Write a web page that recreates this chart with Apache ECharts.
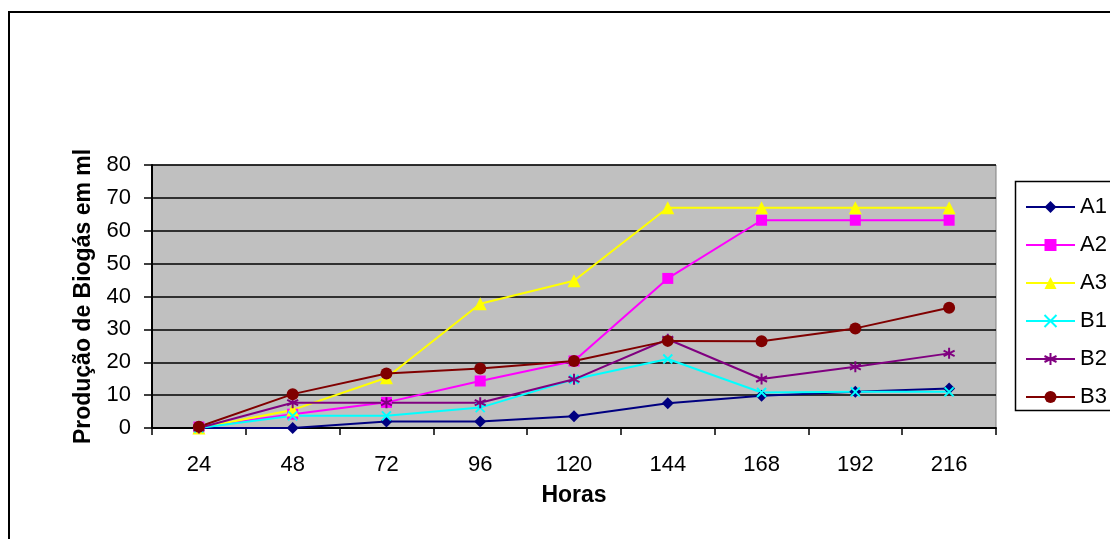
<!DOCTYPE html>
<html>
<head>
<meta charset="utf-8">
<script src="https://cdn.jsdelivr.net/npm/echarts@6/dist/echarts.min.js"></script>
<style>
  html, body { margin: 0; padding: 0; background: #ffffff; }
  #chart { width: 1110px; height: 539px; }
</style>
</head>
<body>
<div id="chart"></div>
<script>
// Hours of incubation (category axis)
const hours = ['24', '48', '72', '96', '120', '144', '168', '192', '216'];

// Biogas production (ml) per treatment
const A1 = [0, 0, 2, 2, 3.6, 7.5, 9.8, 11, 12];
const A2 = [0.3, 4.2, 7.8, 14.3, 20.4, 45.5, 63.2, 63.2, 63.2];
const A3 = [0, 5.5, 15.3, 37.8, 44.8, 67, 67, 67, 67];
const B1 = [0, 3.7, 3.7, 6.2, 14.8, 21, 10.8, 11, 11];
const B2 = [0, 7.7, 7.7, 7.7, 14.8, 27, 14.9, 18.6, 22.7];
const B3 = [0.4, 10.3, 16.6, 18.1, 20.4, 26.5, 26.4, 30.3, 36.6];

const FONT = '"Liberation Sans", Arial, sans-serif';

// Stroked marker shapes for the cross and asterisk series
const crossPath = 'path://M0,0L10,10M10,0L0,10';
const starPath = 'path://M5,0L5,10M0.7,2.5L9.3,7.5M9.3,2.5L0.7,7.5';

function lineSeries(name, data, color, symbol, size, stroked) {
  return {
    name: name,
    type: 'line',
    data: data,
    symbol: symbol,
    symbolSize: size,
    showSymbol: true,
    lineStyle: { color: color, width: 2 },
    itemStyle: stroked
      ? { color: 'rgba(0,0,0,0)', borderColor: color, borderWidth: 2 }
      : { color: color, borderWidth: 0 },
    emphasis: { disabled: true },
    animation: false
  };
}

const chart = echarts.init(document.getElementById('chart'), null, { renderer: 'canvas' });

chart.setOption({
  backgroundColor: '#ffffff',
  animation: false,
  textStyle: { fontFamily: FONT },
  graphic: [
    {
      type: 'rect',
      z: -10,
      shape: { x: 9, y: 12, width: 1200, height: 600 },
      style: { fill: 'none', stroke: '#000', lineWidth: 2 }
    },
    {
      type: 'rect',
      z: -5,
      shape: { x: 1015.5, y: 181.5, width: 200, height: 229 },
      style: { fill: '#fff', stroke: '#000', lineWidth: 1.5 }
    }
  ],
  grid: {
    left: 152,
    top: 165,
    right: 114,
    bottom: 111,
    show: true,
    backgroundColor: '#c0c0c0',
    borderColor: '#808080',
    borderWidth: 1
  },
  legend: {
    orient: 'vertical',
    left: 1020,
    top: 191,
    itemWidth: 49,
    itemHeight: 15,
    itemGap: 16,
    textStyle: { fontFamily: FONT, fontSize: 22, color: '#000' },
    data: ['A1', 'A2', 'A3', 'B1', 'B2', 'B3']
  },
  xAxis: {
    type: 'category',
    data: hours,
    boundaryGap: true,
    name: 'Horas',
    nameLocation: 'middle',
    nameGap: 56,
    nameTextStyle: { fontFamily: FONT, fontSize: 23, fontWeight: 'bold', color: '#000' },
    axisLine: { lineStyle: { color: '#000', width: 2 } },
    axisTick: { show: true, interval: 0, length: 7, lineStyle: { color: '#000', width: 1.5 } },
    axisLabel: { fontFamily: FONT, fontSize: 22, color: '#000', margin: 26, interval: 0 },
    splitLine: { show: false }
  },
  yAxis: {
    type: 'value',
    min: 0,
    max: 80,
    interval: 10,
    name: 'Produção de Biogás em ml',
    nameLocation: 'middle',
    nameGap: 53,
    nameTextStyle: { fontFamily: FONT, fontSize: 23, fontWeight: 'bold', color: '#000' },
    axisLine: { show: true, lineStyle: { color: '#000', width: 2 } },
    axisTick: { show: true, length: 8, lineStyle: { color: '#000', width: 1.5 } },
    axisLabel: { fontFamily: FONT, fontSize: 22, color: '#000', margin: 21 },
    splitLine: { show: true, lineStyle: { color: '#000', width: 1.5 } }
  },
  series: [
    lineSeries('A1', A1, '#000080', 'diamond', 12, false),
    lineSeries('A2', A2, '#ff00ff', 'rect', 11, false),
    lineSeries('A3', A3, '#ffff00', 'triangle', 13, false),
    lineSeries('B1', B1, '#00ffff', crossPath, 9, true),
    lineSeries('B2', B2, '#800080', starPath, 11, true),
    lineSeries('B3', B3, '#800000', 'circle', 12, false)
  ]
});
</script>
</body>
</html>
